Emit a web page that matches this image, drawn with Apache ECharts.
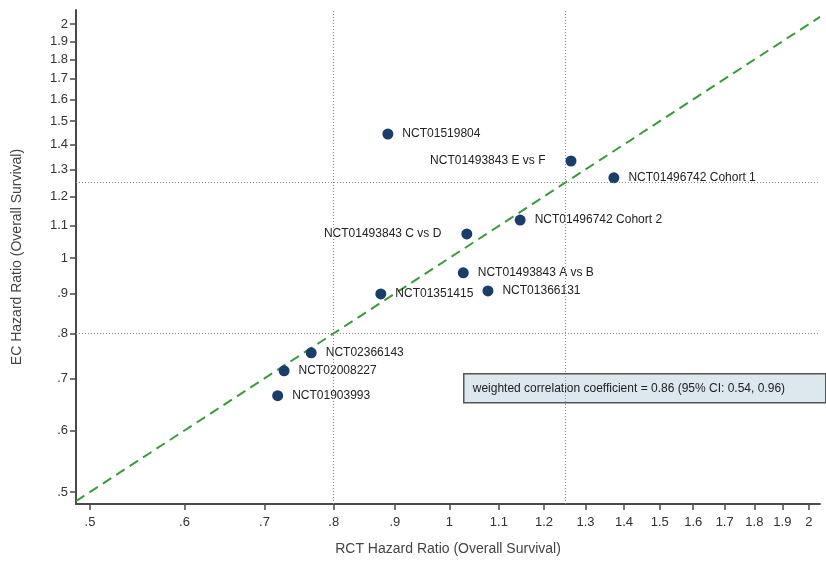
<!DOCTYPE html>
<html><head><meta charset="utf-8">
<script src="https://cdn.jsdelivr.net/npm/echarts@6/dist/echarts.min.js"></script>
<style>html,body{margin:0;padding:0;background:#fff}#c{width:826px;height:562px}</style>
</head><body><div id="c"></div>
<script>
// ---- data ----
const studies = ['NCT01519804','NCT01493843 E vs F','NCT01496742 Cohort 1','NCT01496742 Cohort 2','NCT01493843 C vs D','NCT01493843 A vs B','NCT01366131','NCT01351415','NCT02366143','NCT02008227','NCT01903993'];
const rctHR = [0.888, 1.264, 1.373, 1.146, 1.034, 1.027, 1.077, 0.876, 0.766, 0.727, 0.718];
const ecHR  = [1.444, 1.333, 1.268, 1.119, 1.074, 0.957, 0.907, 0.899, 0.755, 0.716, 0.665];
const tickValues = [0.5,0.6,0.7,0.8,0.9,1,1.1,1.2,1.3,1.4,1.5,1.6,1.7,1.8,1.9,2];
const refLines = [0.8, 1.25];
const xRange = [0.4867, 2.043];
const yRange = [0.4825, 2.085];
const correlationText = 'weighted correlation coefficient = 0.86 (95% CI: 0.54, 0.96)';
const xTitle = 'RCT Hazard Ratio (Overall Survival)';
const yTitle = 'EC Hazard Ratio (Overall Survival)';
const leftLabelled = ['NCT01493843 E vs F','NCT01493843 C vs D'];

// ---- chart ----
const FONT = '"Liberation Sans", Arial, sans-serif';
function fmt(v){
  const r = Math.round(v*10)/10;
  let s = String(r);
  if (r < 1) s = s.replace(/^0/, '');
  return s;
}
const axisCommon = {
  type: 'log', logBase: 10,
  splitLine: {show:false},
  axisLine: {show:true, onZero:false, lineStyle:{color:'#4a4a4a', width:2}},
  axisTick: {show:true, customValues: tickValues, length:6, lineStyle:{color:'#4a4a4a', width:1.5}},
  axisLabel: {customValues: tickValues, formatter: fmt, color:'#333', fontSize:13, fontFamily: FONT},
  nameLocation: 'middle',
  nameTextStyle: {color:'#444', fontSize:14, fontFamily: FONT}
};
const chart = echarts.init(document.getElementById('c'), null, {renderer:'canvas'});
const pts = rctHR.map((x,i)=>({
  value:[x, ecHR[i]], name: studies[i],
  label: leftLabelled.includes(studies[i]) ? {position:'left', distance:20} : {position:'right', distance:9}
}));
chart.setOption({
  animation:false,
  grid:{left:76, right:6, top:10, bottom:58, containLabel:false, outerBoundsMode:'none'},
  xAxis: Object.assign({}, axisCommon, {min:xRange[0], max:xRange[1], name:xTitle, nameGap:38,
    axisLabel: Object.assign({}, axisCommon.axisLabel, {margin:12})}),
  yAxis: Object.assign({}, axisCommon, {min:yRange[0], max:yRange[1], name:yTitle, nameGap:52,
    axisLabel: Object.assign({}, axisCommon.axisLabel, {margin:8})}),
  series:[
    {
      type:'line', data:[[xRange[0],xRange[0]],[xRange[1],xRange[1]]],
      symbol:'none', silent:true,
      lineStyle:{color:'#3c9a3c', width:2, type:[10,6]},
      markLine:{
        silent:true, symbol:'none', label:{show:false},
        lineStyle:{color:'#888', width:1, type:[1,2]},
        data: refLines.map(v=>({xAxis:v})).concat(refLines.map(v=>({yAxis:v})))
      },
      z:1
    },
    {
      type:'scatter', data: pts, symbolSize:11,
      itemStyle:{color:'#1a3d6c', opacity:1},
      label:{show:true, formatter: p=>p.name, color:'#222', fontSize:12, fontFamily: FONT},
      z:3
    }
  ],
  graphic:[{
    type:'group', left:463, top:373,
    children:[
      {type:'rect', shape:{x:0,y:0,width:362,height:29}, style:{fill:'#dde7ee', stroke:'#555', lineWidth:1.5}},
      {type:'text', x:9, y:15, style:{text:correlationText, fill:'#222', font:'12px '+FONT, textVerticalAlign:'middle'}}
    ]
  }]
});
</script></body></html>
